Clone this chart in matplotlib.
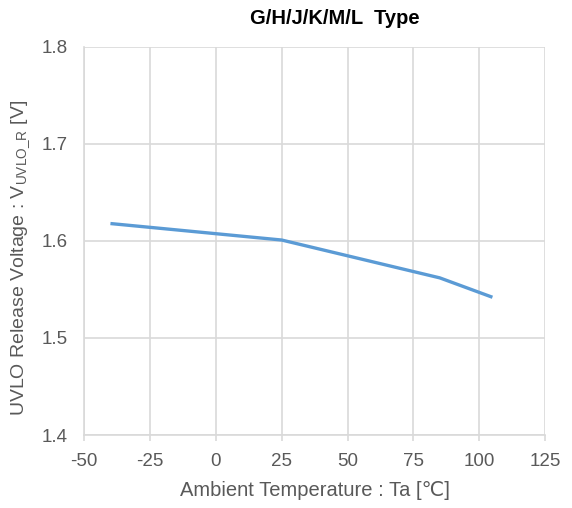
import matplotlib
matplotlib.use("Agg")
import matplotlib.pyplot as plt

temps = [-40, 25, 85, 105]
volts = [1.618, 1.601, 1.562, 1.542]
xticks = [-50, -25, 0, 25, 50, 75, 100, 125]
yticks = [1.4, 1.5, 1.6, 1.7, 1.8]

plt.rcParams['font.family'] = ['Liberation Sans', 'DejaVu Sans']
plt.rcParams['mathtext.fontset'] = 'custom'
plt.rcParams['mathtext.rm'] = 'Liberation Sans'
plt.rcParams['mathtext.default'] = 'regular'

fig = plt.figure(figsize=(5.72, 5.08), dpi=100)
ax = fig.add_axes([0.147, 0.1437, 0.806, 0.7638])
grid_c = '#D9D9D9'
ax.plot(temps, volts, color='#5B9BD5', lw=2.4, solid_capstyle='butt', zorder=3)
ax.set_xlim(-50, 125)
ax.set_ylim(1.4, 1.8)
ax.set_xticks(xticks)
ax.set_yticks(yticks)
ax.set_xticklabels([str(t) for t in xticks])
ax.set_yticklabels([f"{v:.1f}" for v in yticks])
ax.grid(True, color=grid_c, lw=1.2)
for s in ['top', 'right']:
    ax.spines[s].set_visible(False)
for s in ['left', 'bottom']:
    ax.spines[s].set_color(grid_c)
    ax.spines[s].set_linewidth(1.2)
ax.tick_params(axis='x', colors=grid_c, labelcolor='#595959', labelsize=13.5, length=4, width=1.2, pad=9)
ax.tick_params(axis='y', length=0, labelcolor='#595959', labelsize=13.5, pad=12)
ax.set_xlabel('Ambient Temperature : Ta [\u2103]', fontsize=14.5, color='#595959', labelpad=8)
ax.set_ylabel(r'UVLO Release Voltage : V$_{UVLO\_R}$ [V]', fontsize=14, color='#595959')
ax.yaxis.set_label_coords(-0.112, 0.455)
fig.text(335 / 572, 1 - 19 / 508, 'G/H/J/K/M/L  Type', fontsize=14.5, fontweight='bold',
         color='black', ha='center', va='center')
fig.savefig('out.png', dpi=100)
